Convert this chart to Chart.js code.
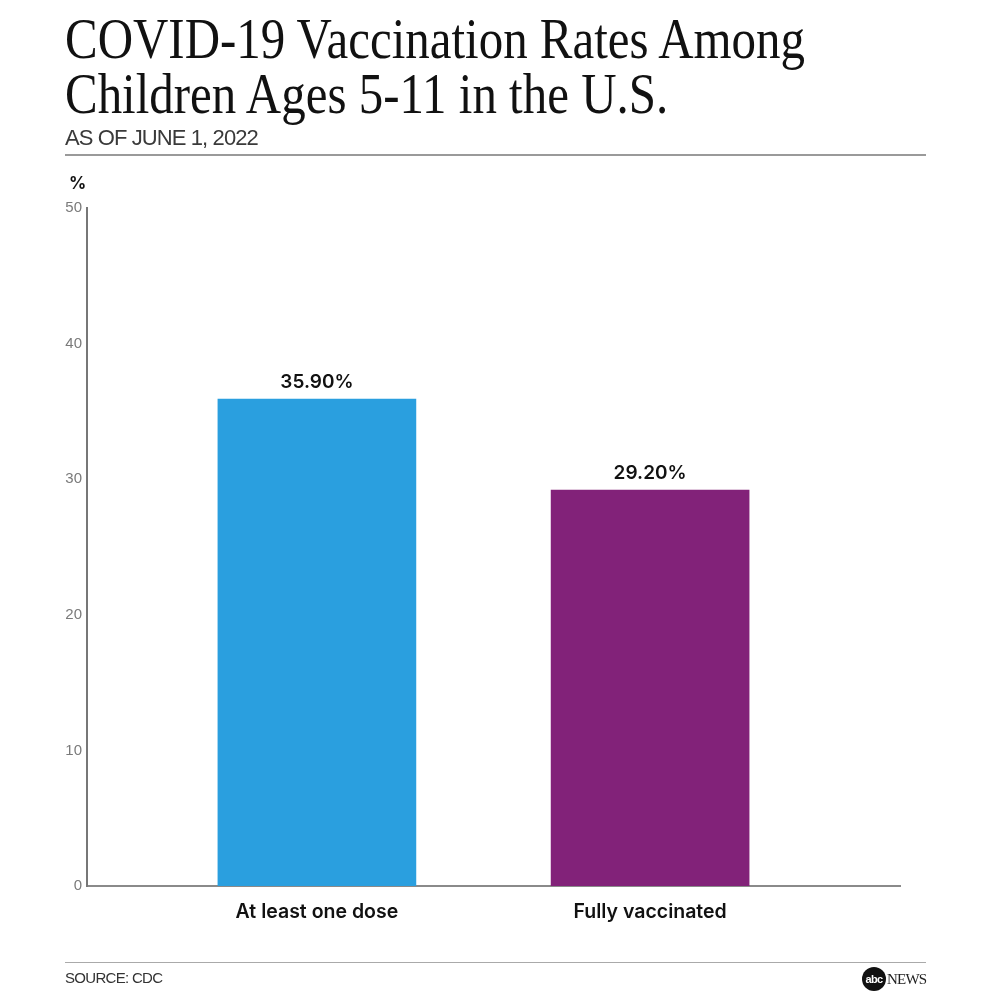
<!DOCTYPE html>
<html>
<head>
<meta charset="utf-8">
<script src="https://cdn.jsdelivr.net/npm/chart.js@4.4.1/dist/chart.umd.min.js"></script>
<style>
  html, body { margin: 0; padding: 0; background: #fff; }
  #wrap { position: relative; width: 992px; height: 992px; overflow: hidden; }
  #chart { position: absolute; left: 0; top: 0; }
  .title { position: absolute; left: 65px; font-family: "Liberation Serif", "DejaVu Serif", serif;
           font-size: 58px; color: #111; white-space: nowrap; transform-origin: 0 0; line-height: 1; }
  #sub { position: absolute; left: 65px; top: 125px; font-family: "Liberation Sans", sans-serif;
         font-size: 22px; color: #3a3a3a; letter-spacing: -0.9px; white-space: nowrap; }
  .rule { position: absolute; left: 65px; width: 861px; background: #9a9a9a; }
  #pct { position: absolute; left: 69px; top: 173px; font-family: Inter, sans-serif; font-weight: 700;
         font-size: 17px; color: #111; }
  #src { position: absolute; left: 65px; top: 969px; font-family: "Liberation Sans", sans-serif;
         font-size: 15px; color: #333; letter-spacing: -0.7px; }
  #logo { position: absolute; left: 862px; top: 967px; height: 24px; display: flex; align-items: center; }
  #logo .dot { width: 24px; height: 24px; border-radius: 50%; background: #111; color: #fff;
               font-family: "Liberation Sans", sans-serif; font-weight: 700; font-size: 11px;
               letter-spacing: -0.6px; display: flex; align-items: center; justify-content: center; }
  #logo .news { font-family: "Liberation Serif", serif; font-size: 15px; color: #222; margin-left: 1px; letter-spacing: -0.8px; }
</style>
</head>
<body>
<div id="wrap">
  <canvas id="chart" width="992" height="992"></canvas>
  <div class="title" id="t1" style="top:10px">COVID-19 Vaccination Rates Among</div>
  <div class="title" id="t2" style="top:65px">Children Ages 5-11 in the U.S.</div>
  <div id="sub">AS OF JUNE 1, 2022</div>
  <div class="rule" style="top:154px;height:2px"></div>
  <div id="pct">%</div>
  <div class="rule" style="top:962px;height:1px;background:#aaa"></div>
  <div id="src">SOURCE: CDC</div>
  <div id="logo"><div class="dot">abc</div><div class="news">NEWS</div></div>
</div>
<script>
// data
var categories = ["At least one dose", "Fully vaccinated"];
var values = [35.9, 29.2];
var barColors = ["#2a9fdf", "#822279"];
var yTicks = [0, 10, 20, 30, 40, 50];

// squeeze the serif title to the condensed look of the original
var t1 = document.getElementById("t1");
var sx = 740 / t1.getBoundingClientRect().width;
document.querySelectorAll(".title").forEach(function (el) {
    el.style.transform = "scaleX(" + sx + ")";
});

var valueLabels = {
    id: 'valueLabels',
    afterDatasetsDraw: function (chart) {
        var ctx = chart.ctx;
        var meta = chart.getDatasetMeta(0);
        ctx.save();
        ctx.font = "600 19px Inter, sans-serif";
        ctx.fillStyle = "#111";
        ctx.textAlign = "center";
        ctx.textBaseline = "bottom";
        meta.data.forEach(function (bar, i) {
            ctx.fillText(values[i].toFixed(2) + "%", bar.x, bar.y - 7);
        });
        ctx.restore();
    }
};

var ctx = document.getElementById("chart").getContext('2d');
var myBarChart = new Chart(ctx, {
    type: 'bar',
    data: {
        datasets: [
            {
                data: values.map(function (v, i) { return { x: i + 1, y: v }; }),
                backgroundColor: barColors,
                barThickness: 198
            }
        ]
    },
    options: {
        responsive: false,
        animation: false,
        layout: { padding: { top: 208, right: 92, bottom: 56, left: 0 } },
        plugins: { legend: { display: false }, tooltip: { enabled: false } },
        scales: {
            x: {
                type: 'linear',
                offset: false,
                min: 0.31,
                max: 2.75,
                afterBuildTicks: function (scale) {
                    scale.ticks = categories.map(function (c, i) { return { value: i + 1 }; });
                },
                afterFit: function (scale) { scale.height = 50; },
                ticks: {
                    autoSkip: false,
                    maxRotation: 0,
                    padding: 14,
                    color: "#111",
                    font: { family: "Inter, sans-serif", size: 19.5, weight: 600 },
                    callback: function (v) { return categories[v - 1] || ""; }
                },
                grid: { display: false, drawTicks: false },
                border: { color: "#8a8a8a", width: 2 }
            },
            y: {
                min: 0,
                max: 50,
                afterBuildTicks: function (scale) {
                    scale.ticks = yTicks.map(function (t) { return { value: t }; });
                },
                afterFit: function (scale) { scale.width = 87; },
                ticks: {
                    padding: 5,
                    color: "#7a7a7a",
                    font: { family: "Liberation Sans, sans-serif", size: 15 }
                },
                grid: { display: false, drawTicks: false },
                border: { color: "#777", width: 2 }
            }
        }
    },
    plugins: [valueLabels]
});
</script>
</body>
</html>
